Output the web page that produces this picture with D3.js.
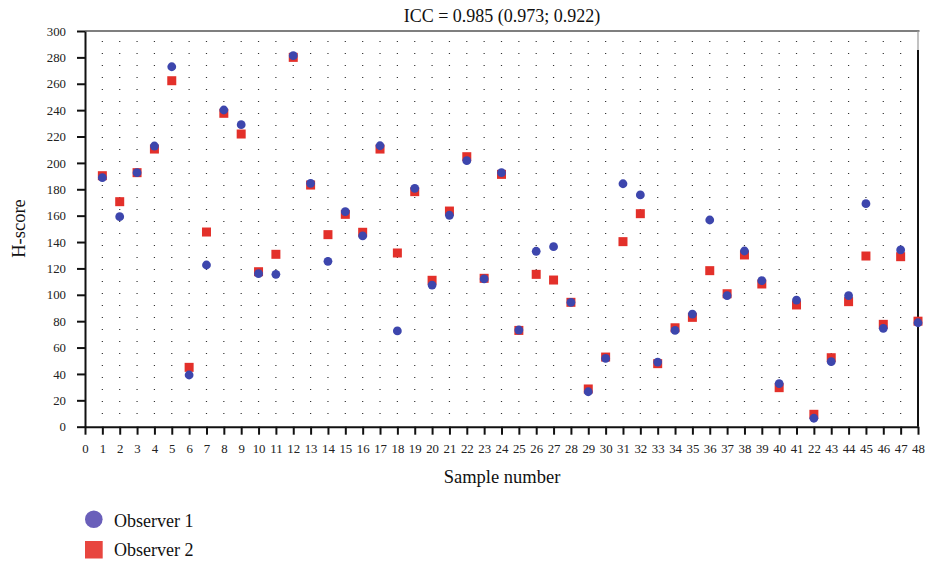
<!DOCTYPE html>
<html>
<head>
<meta charset="utf-8">
<script src="https://cdn.jsdelivr.net/npm/d3@7"></script>
<style>
  html, body { margin: 0; padding: 0; background: #fff; }
  svg { display: block; font-family: "Liberation Serif", "DejaVu Serif", serif; }
</style>
</head>
<body>
<svg id="chart" width="927" height="563"></svg>
<script>
const titleText = "ICC = 0.985 (0.973; 0.922)";
const xTitle = "Sample number";
const yTitle = "H-score";
const seriesNames = ["Observer 1", "Observer 2"];
const samples = d3.range(1, 49);
const observer1 = [188.8, 159.2, 192.6, 212.8, 272.9, 39.2, 122.6, 240.1, 229.0, 116.0,
                   115.5, 281.3, 184.5, 125.4, 163.0, 144.6, 213.0, 72.6, 180.7, 107.4,
                   160.3, 201.7, 112.0, 192.6, 73.3, 133.0, 136.5, 94.3, 26.5, 51.8,
                   184.2, 175.7, 49.0, 73.0, 85.4, 156.7, 99.3, 133.2, 110.7, 32.6,
                   96.0, 6.4, 49.3, 99.3, 169.1, 74.6, 134.0, 78.8];
const observer2 = [190.3, 170.6, 192.6, 210.5, 262.3, 45.0, 147.6, 237.6, 221.9, 117.5,
                   130.7, 280.0, 183.2, 145.6, 161.0, 147.4, 210.5, 131.7, 178.2, 111.0,
                   163.5, 204.7, 112.5, 191.3, 73.0, 115.5, 111.2, 94.3, 28.6, 52.8,
                   140.3, 161.5, 47.8, 75.0, 82.9, 118.3, 100.8, 130.2, 108.2, 29.6,
                   92.3, 9.4, 52.3, 94.8, 129.4, 77.6, 128.9, 80.0];
const xTickValues = d3.range(0, 49);
const xTickLabels = ["0","1","2","3","4","5","6","7","8","9","10","11","12","13","14","15","16",
                     "17","18","19","20","21","22","23","24","25","26","27","28","29","30","31","32",
                     "33","34","35","36","37","38","39","40","41","22","43","44","45","46","47","48"];
const yTickValues = d3.range(0, 301, 20);

const svg = d3.select("#chart");
const x = d3.scaleLinear().domain([0, 48]).range([85, 918]);
const y = d3.scaleLinear().domain([0, 300]).range([426.7, 31]);

// dotted vertical grid
svg.append("g").selectAll("line").data(d3.range(1, 48)).join("line")
  .attr("x1", d => x(d)).attr("x2", d => x(d))
  .attr("y1", 414).attr("y2", 31)
  .attr("stroke", "#333").attr("stroke-width", 1.2)
  .attr("stroke-dasharray", "1,11");

// frame: top and right
svg.append("line").attr("x1", x(0)).attr("x2", x(48) + 1.5).attr("y1", y(300)).attr("y2", y(300))
  .attr("stroke", "#555").attr("stroke-width", 1.3);
svg.append("line").attr("x1", x(48)).attr("x2", x(48)).attr("y1", y(300)).attr("y2", 50)
  .attr("stroke", "#999").attr("stroke-width", 1.2);
svg.append("line").attr("x1", x(48)).attr("x2", x(48)).attr("y1", 50).attr("y2", y(0))
  .attr("stroke", "#111").attr("stroke-width", 2);

// axes
const yAxis = svg.append("g").attr("transform", `translate(${x(0)},0)`)
  .call(d3.axisLeft(y).tickValues(yTickValues).tickSize(8).tickPadding(11).tickSizeOuter(0));
yAxis.select(".domain").attr("stroke", "#111").attr("stroke-width", 2);
yAxis.selectAll(".tick line").attr("stroke", "#111").attr("stroke-width", 2);
yAxis.selectAll("text").attr("font-size", 12.8).attr("fill", "#222")
  .attr("font-family", "Liberation Serif, serif");

const xAxis = svg.append("g").attr("transform", `translate(0,${y(0)})`)
  .call(d3.axisBottom(x).tickValues(xTickValues).tickFormat((d, i) => xTickLabels[i])
        .tickSize(8).tickPadding(6).tickSizeOuter(0));
xAxis.select(".domain").attr("stroke", "#111").attr("stroke-width", 2);
xAxis.selectAll(".tick line").attr("stroke", "#111").attr("stroke-width", 2);
xAxis.selectAll("text").attr("font-size", 12.8).attr("fill", "#222")
  .attr("font-family", "Liberation Serif, serif").attr("y", 26).attr("dy", 0);

// markers: squares first, circles on top
const sq = 9;
svg.append("g").selectAll("rect").data(samples).join("rect")
  .attr("x", (d, i) => x(d) - sq / 2).attr("y", (d, i) => y(observer2[i]) - sq / 2)
  .attr("width", sq).attr("height", sq)
  .attr("fill", "#e3302a");
svg.append("g").selectAll("circle").data(samples).join("circle")
  .attr("cx", d => x(d)).attr("cy", (d, i) => y(observer1[i])).attr("r", 4.4)
  .attr("fill", "#3d46ad");

// titles
svg.append("text").attr("x", 502).attr("y", 21.5).attr("text-anchor", "middle")
  .attr("font-size", 18).attr("fill", "#111").text(titleText);
svg.append("text").attr("x", 502).attr("y", 482.5).attr("text-anchor", "middle")
  .attr("font-size", 18.5).attr("fill", "#111").text(xTitle);
svg.append("text").attr("transform", "translate(24.5,228.5) rotate(-90)").attr("text-anchor", "middle")
  .attr("font-size", 18.5).attr("fill", "#111").text(yTitle);

// legend
const leg = svg.append("g");
leg.append("circle").attr("cx", 93.8).attr("cy", 519.3).attr("r", 8.8).attr("fill", "#6a5fba");
leg.append("rect").attr("x", 85).attr("y", 541).attr("width", 17.7).attr("height", 17.5).attr("fill", "#e8463f");
leg.selectAll("text.lg").data(seriesNames).join("text").attr("class", "lg")
  .attr("x", 114).attr("y", (d, i) => 526.5 + i * 29.5)
  .attr("font-size", 18).attr("fill", "#111").text(d => d);
</script>
</body>
</html>
